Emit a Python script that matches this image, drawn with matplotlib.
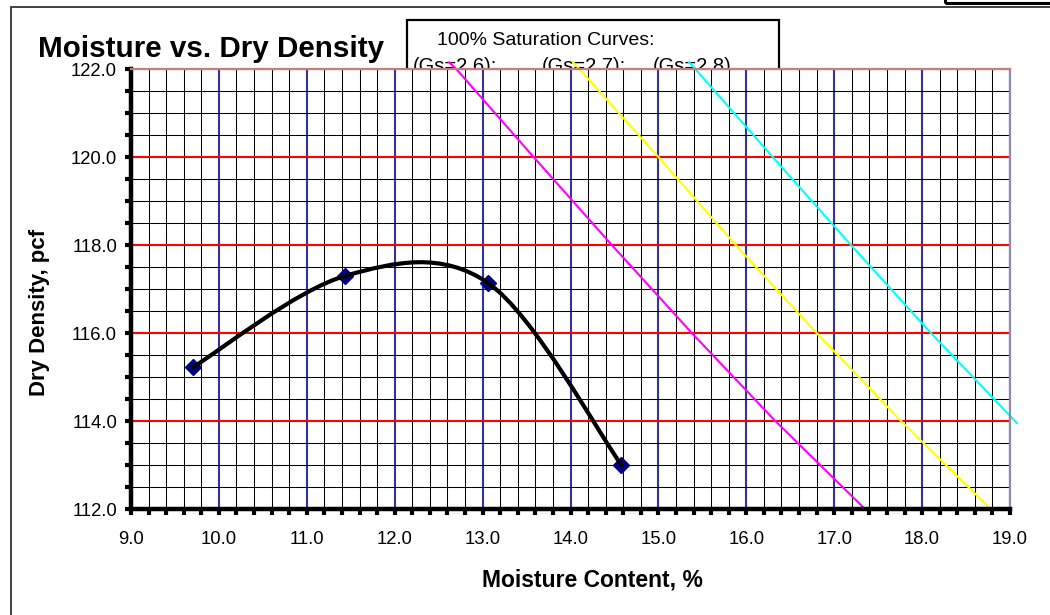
import matplotlib
matplotlib.use("Agg")
import matplotlib.pyplot as plt
from matplotlib.path import Path
from matplotlib.patches import PathPatch, Rectangle
from matplotlib.ticker import MultipleLocator, FormatStrFormatter

plt.rcParams['font.family'] = ['Liberation Sans', 'DejaVu Sans']

# ---- data ----
moisture = [9.71, 11.44, 13.06, 14.58]
density = [115.23, 117.30, 117.14, 113.00]

sat26_w = [12.62, 12.70, 13.58, 14.47, 15.38, 16.33, 17.35]
sat26_d = [122.15, 122.0, 120.0, 118.0, 116.0, 114.0, 112.0]
sat27_w = [14.03, 14.10, 15.00, 15.88, 16.80, 17.76, 18.78]
sat27_d = [122.15, 122.0, 120.0, 118.0, 116.0, 114.0, 112.0]
sat28_w = [15.35, 15.42, 16.30, 17.19, 18.10, 19.08]
sat28_d = [122.15, 122.0, 120.0, 118.0, 116.0, 113.95]

x_range = (9.0, 19.0)
y_range = (112.0, 122.0)

W, H = 1050, 615
fig = plt.figure(figsize=(W / 100, H / 100), dpi=100)
fig.patch.set_facecolor('white')

def px(x0, y0):
    return x0 / W, 1 - y0 / H

# outer chart frame (extends beyond the picture at right/bottom)
fig.add_artist(Rectangle(px(11, 640), 1080 / W, (640 - 7) / H, transform=fig.transFigure,
                         fill=False, edgecolor='#333333', lw=1.3, zorder=-5))
# small box at the top right (cut off)
fig.add_artist(Rectangle(px(945, 2.5), 200 / W, 40 / H, transform=fig.transFigure,
                         fill=False, edgecolor='black', lw=2.2, zorder=-5))

# legend text box (sits behind the plot area)
fig.add_artist(Rectangle(px(407, 74), (779 - 407) / W, (74 - 20) / H, transform=fig.transFigure,
                         facecolor='white', edgecolor='black', lw=1.6, zorder=-4))
fig.text(*px(437, 45), '100% Saturation Curves:', fontsize=14, va='baseline', ha='left', zorder=-3)
for xx, s in [(413, '(Gs=2.6):'), (542, '(Gs=2.7):'), (653, '(Gs=2.8)')]:
    fig.text(*px(xx, 72), s, fontsize=14.5, va='baseline', ha='left', zorder=-3)

fig.text(*px(38, 57), 'Moisture vs. Dry Density', fontsize=21.3, fontweight='bold',
         va='baseline', ha='left')

ax = fig.add_axes([131 / W, 1 - 509 / H, (1010 - 131) / W, (509 - 69) / H])
ax.set_zorder(1)
ax.set_facecolor('white')
ax.set_xlim(*x_range)
ax.set_ylim(*y_range)

ax.xaxis.set_major_locator(MultipleLocator(1.0))
ax.xaxis.set_minor_locator(MultipleLocator(0.2))
ax.yaxis.set_major_locator(MultipleLocator(2.0))
ax.yaxis.set_minor_locator(MultipleLocator(0.5))
ax.xaxis.set_major_formatter(FormatStrFormatter('%.1f'))
ax.yaxis.set_major_formatter(FormatStrFormatter('%.1f'))

ax.set_axisbelow(True)
ax.xaxis.grid(True, which='major', color='#333399', lw=1.5)
ax.xaxis.grid(True, which='minor', color='black', lw=0.75)
ax.yaxis.grid(True, which='major', color='#ff0000', lw=1.5)
ax.yaxis.grid(True, which='minor', color='black', lw=0.75)

for side in ['left', 'bottom']:
    ax.spines[side].set_linewidth(3.2)
    ax.spines[side].set_color('black')
ax.spines['top'].set_color('#c08080')
ax.spines['top'].set_linewidth(1.6)
ax.spines['right'].set_color('#8c8ca8')
ax.spines['right'].set_linewidth(1.6)

ax.tick_params(axis='both', which='both', direction='out', length=4, width=3, color='black')
ax.tick_params(axis='both', which='major', labelsize=13.3, labelcolor='black')
ax.tick_params(axis='x', which='major', pad=12)
ax.tick_params(axis='y', which='major', pad=6)

# saturation lines
ax.plot(sat26_w, sat26_d, color='#ff00ff', lw=1.5, clip_on=False, zorder=2.5)
ax.plot(sat27_w, sat27_d, color='#ffff00', lw=1.5, clip_on=False, zorder=2.5)
ax.plot(sat28_w, sat28_d, color='#00ffff', lw=1.5, clip_on=False, zorder=2.5)

# smoothed curve (Excel-like Catmull-Rom / Bezier) through the data points
pts = list(zip(moisture, density))
n = len(pts)
verts = [pts[0]]
codes = [Path.MOVETO]
for i in range(n - 1):
    p0 = pts[max(i - 1, 0)]
    p1 = pts[i]
    p2 = pts[i + 1]
    p3 = pts[min(i + 2, n - 1)]
    c1 = (p1[0] + (p2[0] - p0[0]) / 6, p1[1] + (p2[1] - p0[1]) / 6)
    c2 = (p2[0] - (p3[0] - p1[0]) / 6, p2[1] - (p3[1] - p1[1]) / 6)
    verts += [c1, c2, p2]
    codes += [Path.CURVE4] * 3
ax.add_patch(PathPatch(Path(verts, codes), fill=False, edgecolor='black', lw=3, zorder=4,
                       capstyle='round'))
ax.plot(moisture, density, linestyle='none', marker='D', markersize=8,
        markerfacecolor='#000080', markeredgecolor='#000080', zorder=3)

fig.text(*px(592, 587), 'Moisture Content, %', fontsize=16.5, fontweight='bold',
         ha='center', va='baseline')
fig.text(*px(40, 312), 'Dry Density, pcf', fontsize=16, fontweight='bold',
         ha='center', va='center', rotation=90)

fig.savefig('out.png', dpi=100)
